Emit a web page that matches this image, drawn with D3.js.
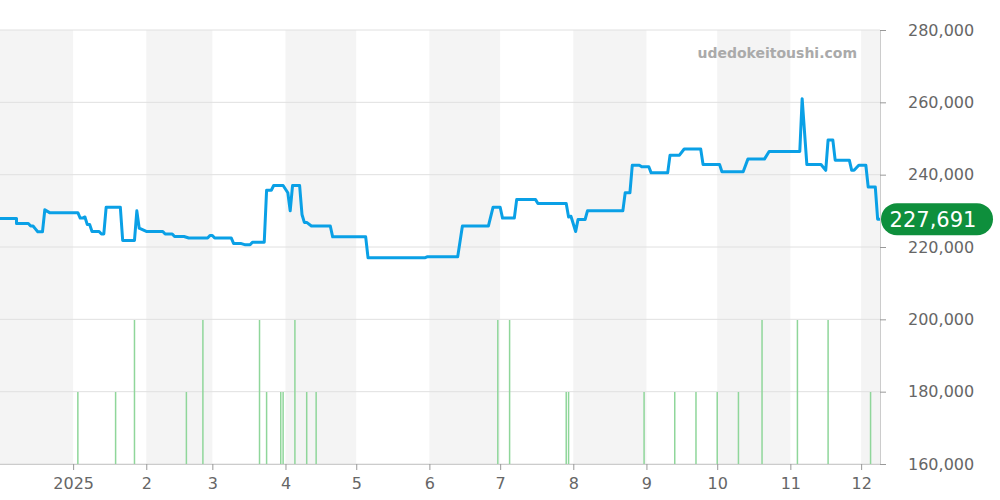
<!DOCTYPE html>
<html><head><meta charset="utf-8">
<script src="https://cdn.jsdelivr.net/npm/d3@7"></script>
<style>body{margin:0;background:#fff}svg{font-family:"DejaVu Sans",sans-serif}</style>
</head><body><svg id="c" width="1000" height="500"></svg>
<script>
const priceDates=["2024-12-01","2024-12-08","2024-12-08","2024-12-13","2024-12-14","2024-12-15","2024-12-16","2024-12-17","2024-12-19","2024-12-20","2024-12-20","2024-12-22","2025-01-03","2025-01-04","2025-01-05","2025-01-06","2025-01-07","2025-01-08","2025-01-09","2025-01-12","2025-01-13","2025-01-14","2025-01-15","2025-01-21","2025-01-22","2025-01-27","2025-01-28","2025-01-29","2025-02-01","2025-02-08","2025-02-09","2025-02-12","2025-02-13","2025-02-17","2025-02-19","2025-02-27","2025-02-28","2025-03-01","2025-03-02","2025-03-09","2025-03-10","2025-03-13","2025-03-15","2025-03-17","2025-03-18","2025-03-23","2025-03-24","2025-03-26","2025-03-27","2025-03-31","2025-04-02","2025-04-03","2025-04-04","2025-04-07","2025-04-08","2025-04-09","2025-04-10","2025-04-12","2025-04-20","2025-04-21","2025-05-05","2025-05-06","2025-05-30","2025-05-31","2025-06-13","2025-06-15","2025-06-26","2025-06-28","2025-07-01","2025-07-02","2025-07-07","2025-07-08","2025-07-16","2025-07-17","2025-07-29","2025-07-30","2025-07-31","2025-08-02","2025-08-03","2025-08-06","2025-08-07","2025-08-22","2025-08-23","2025-08-25","2025-08-26","2025-08-29","2025-08-30","2025-09-02","2025-09-03","2025-09-10","2025-09-11","2025-09-15","2025-09-17","2025-09-24","2025-09-25","2025-10-02","2025-10-03","2025-10-12","2025-10-14","2025-10-21","2025-10-23","2025-11-05","2025-11-06","2025-11-08","2025-11-14","2025-11-16","2025-11-17","2025-11-19","2025-11-20","2025-11-26","2025-11-27","2025-11-28","2025-11-30","2025-12-03","2025-12-04","2025-12-07","2025-12-08","2025-12-09"];
const priceValues=[227900,227900,226500,226500,225800,225800,225000,224200,224200,230300,230300,229500,229500,228000,228000,228300,226200,226200,224300,224300,223600,223600,231000,231000,221800,221800,230000,225200,224300,224300,223600,223600,222900,222900,222500,222500,223200,223200,222500,222500,221000,221000,220600,220600,221300,221300,235700,235700,237000,237000,235000,230000,237000,237000,229000,226800,226800,225800,225800,222800,222800,217000,217000,217300,217300,225800,225800,231000,231000,228000,228000,233100,233100,232000,232000,228300,228500,224300,227600,227600,230000,230000,235000,235000,242600,242600,242200,242200,240500,240500,245400,245400,247100,247100,242800,242800,240800,240800,244300,244300,246400,246400,261000,242800,242800,241200,249600,249600,244000,244000,241200,241200,242600,242600,236600,236600,227691,227691];
const volDates=["2025-01-27","2025-02-25","2025-03-21","2025-04-05","2025-06-30","2025-07-05","2025-10-20","2025-11-04","2025-11-17","2025-01-03","2025-01-19","2025-02-18","2025-03-24","2025-03-30","2025-03-31","2025-04-10","2025-04-14","2025-07-29","2025-07-30","2025-08-31","2025-09-13","2025-09-22","2025-10-01","2025-10-10","2025-12-05"];
const volValues=[2,2,2,2,2,2,2,2,2,1,1,1,1,1,1,1,1,1,1,1,1,1,1,1,1];
const yTicks=[160000,180000,200000,220000,240000,260000,280000];
const lastPrice=227691;

const P=d3.utcParse("%Y-%m-%d");
const svg=d3.select("#c");
const x=d3.scaleUtc().domain([P("2024-12-01"),P("2025-12-09")]).range([0,880]);
const y=d3.scaleLinear().domain([160000,280000]).range([464,30]);
const yv=d3.scaleLinear().domain([0,4]).range([464,176]);

const months=d3.utcMonth.range(P("2024-12-01"),P("2026-01-01"));
months.forEach((m,i)=>{ if(i%2===0){
  const x0=x(m),x1=Math.min(880,x(d3.utcMonth.offset(m,1)));
  svg.append("rect").attr("x",x0).attr("y",30).attr("width",x1-x0).attr("height",434).attr("fill","#f4f4f4");}});
svg.append("g").selectAll("line").data(yTicks).join("line").attr("x1",0).attr("x2",880)
 .attr("y1",d=>y(d)).attr("y2",d=>y(d)).attr("stroke","#e0e0e0");
svg.append("g").selectAll("line").data(volDates).join("line")
 .attr("x1",d=>x(P(d))).attr("x2",d=>x(P(d))).attr("y1",464).attr("y2",(d,i)=>yv(volValues[i]))
 .attr("stroke","#8fd69a").attr("stroke-width",1.5);
svg.append("text").attr("x",857).attr("y",58).attr("text-anchor","end").attr("font-size",14).attr("font-weight","bold").attr("fill","#aaa").text("udedokeitoushi.com");
const pts=priceDates.map((d,i)=>[P(d),priceValues[i]]);
svg.append("path").datum(pts).attr("fill","none").attr("stroke","#0aa0e6").attr("stroke-width",3).attr("stroke-linejoin","round")
 .attr("d",d3.line().x(d=>x(d[0])).y(d=>y(d[1])));
const ay=svg.append("g").attr("transform","translate(880,0)").call(d3.axisRight(y).tickValues(yTicks).tickFormat(d3.format(",")).tickSize(6).tickPadding(22));
ay.select(".domain").attr("stroke","#ccc");
ay.selectAll("line").attr("stroke","#999");
ay.selectAll("text").attr("font-size",16).attr("fill","#666").attr("font-family","DejaVu Sans");
const ticks=d3.utcMonth.range(P("2025-01-01"),P("2025-12-09"));
const ax=svg.append("g").attr("transform","translate(0,464)").call(d3.axisBottom(x).tickValues(ticks)
 .tickFormat(d=>d.getUTCMonth()===0?"2025":String(d.getUTCMonth()+1)).tickSize(6).tickPadding(8));
ax.select(".domain").attr("stroke","#ccc").attr("d","M0,0.5H880");
ax.selectAll("line").attr("stroke","#999");
ax.selectAll("text").attr("font-size",16).attr("fill","#666").attr("font-family","DejaVu Sans");
const by=y(lastPrice);
svg.append("rect").attr("x",881).attr("y",by-16).attr("width",112).attr("height",32).attr("rx",16).attr("fill","#0e8f3c");
svg.append("text").attr("x",933).attr("y",by+7.5).attr("text-anchor","middle").attr("font-size",21).attr("fill","#fff").text(d3.format(",")(lastPrice));
</script></body></html>
